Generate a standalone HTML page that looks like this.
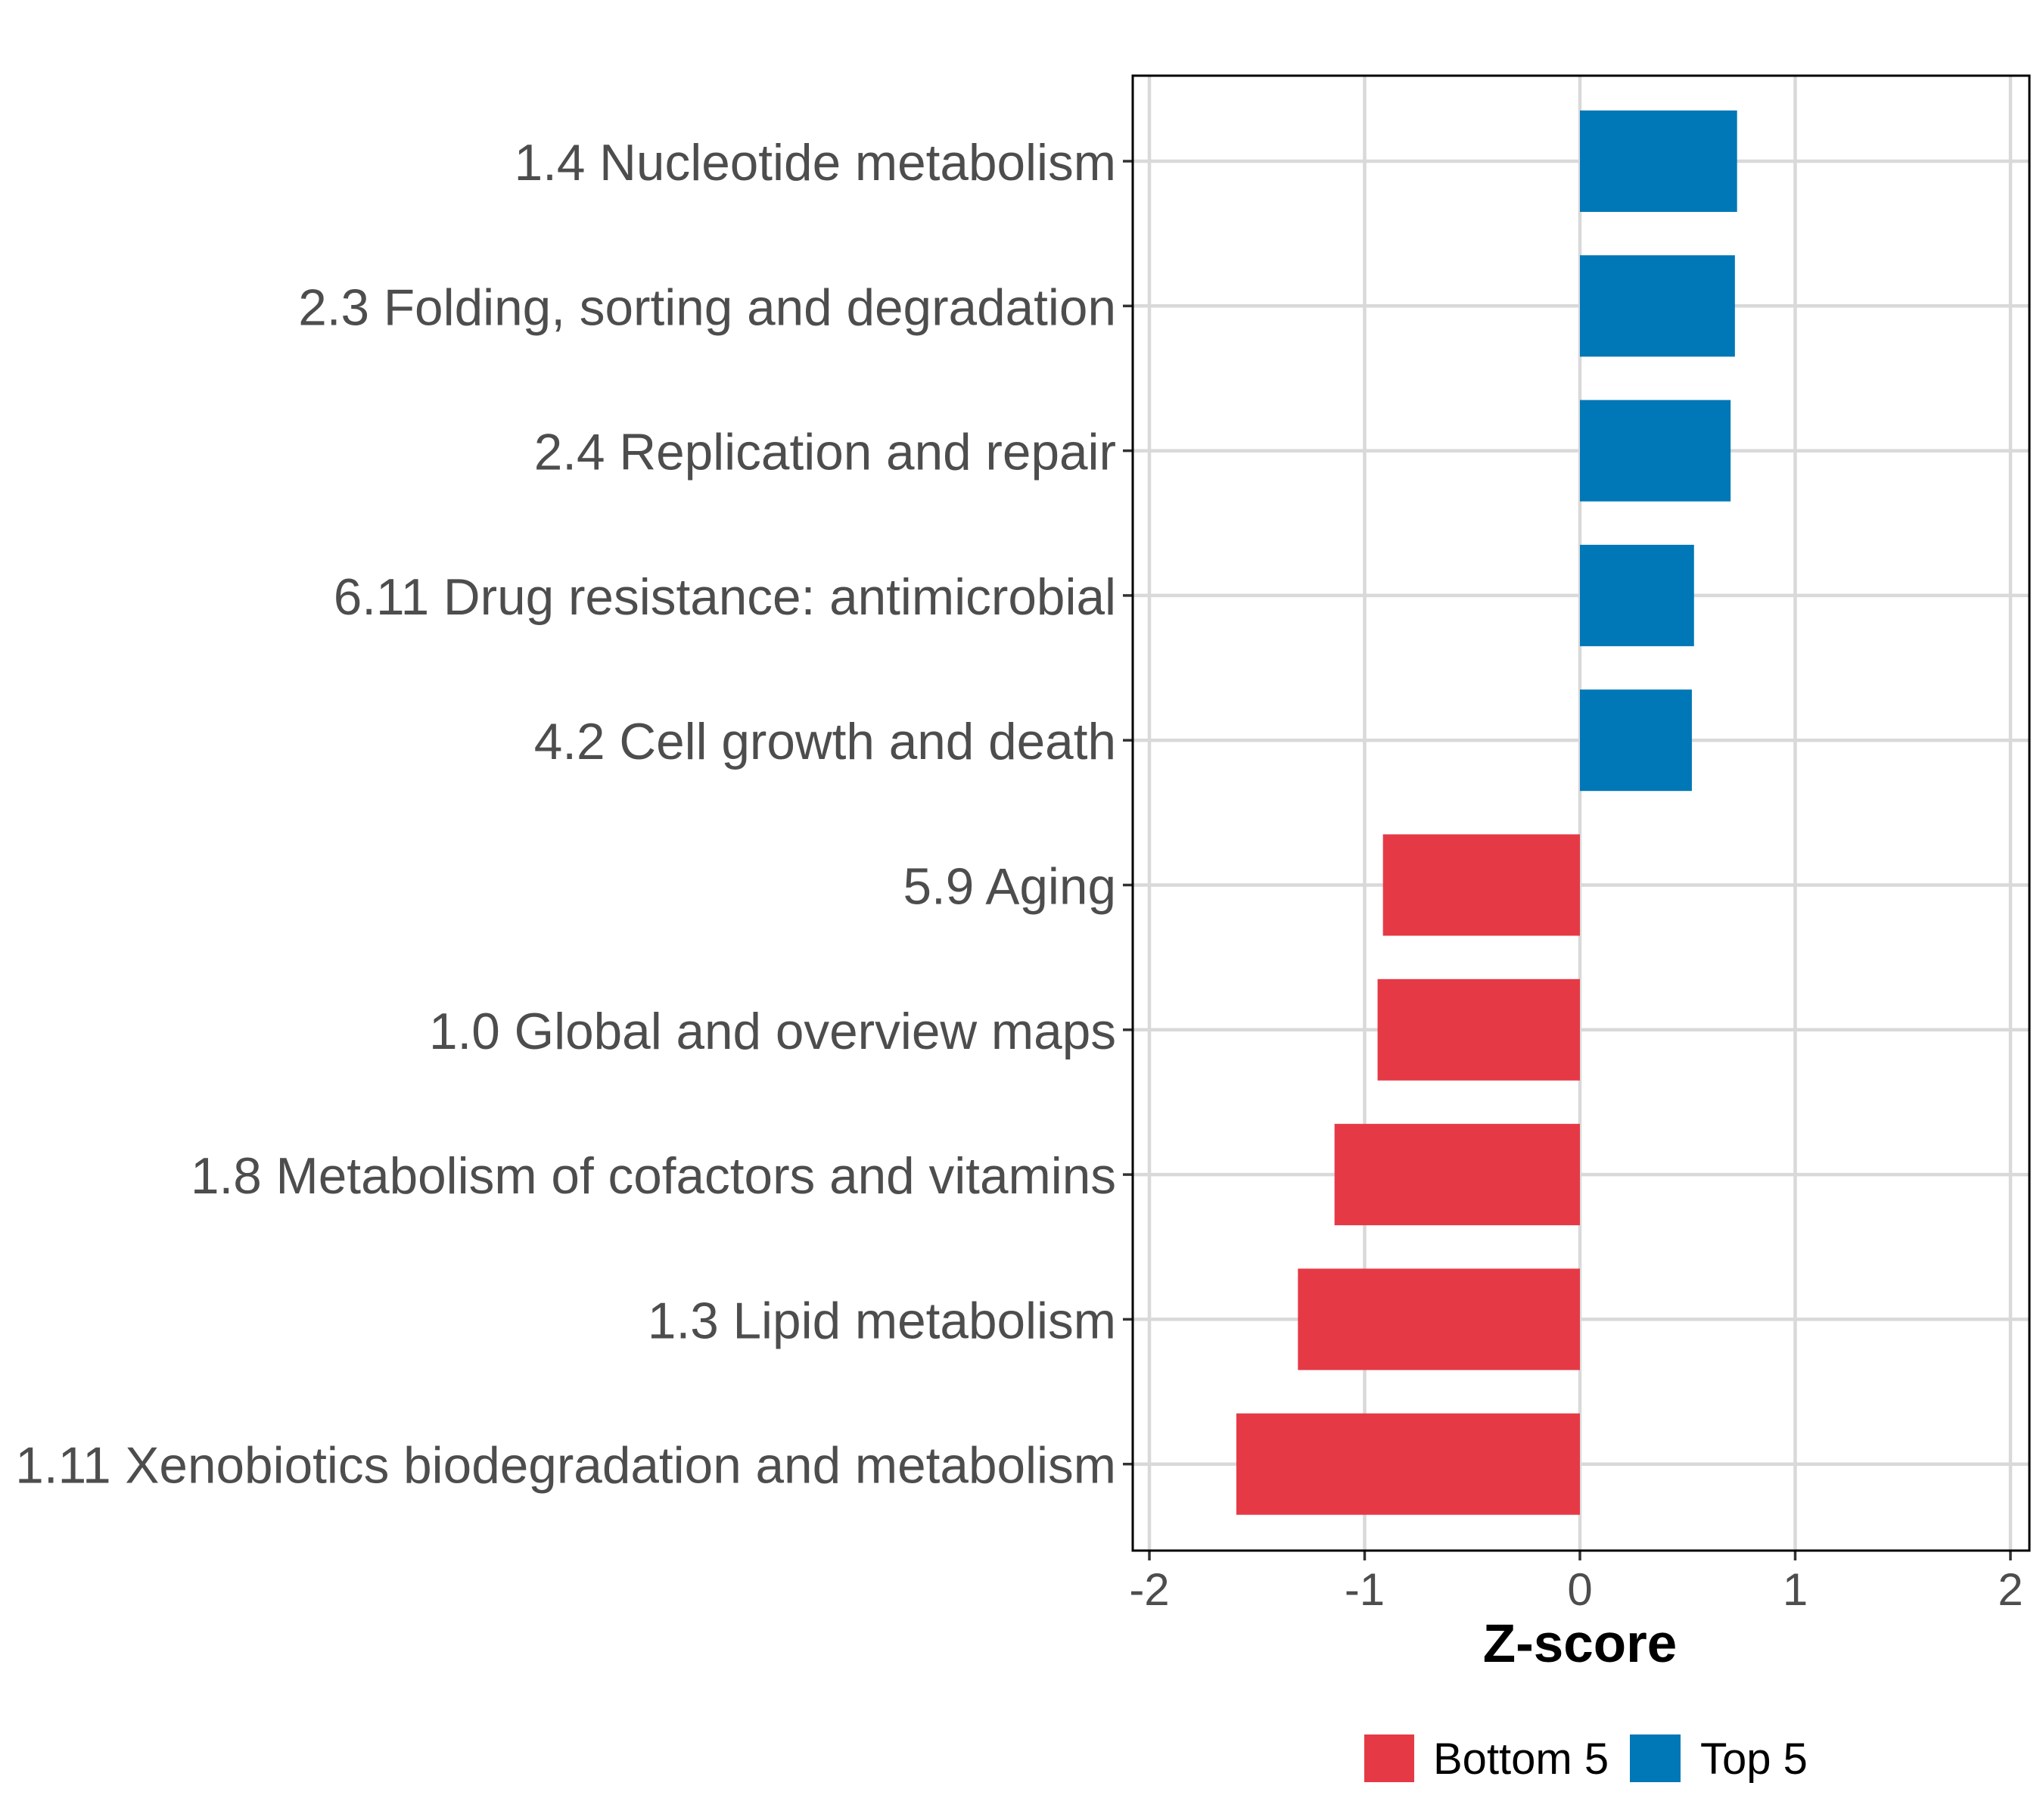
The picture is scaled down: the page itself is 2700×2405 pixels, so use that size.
<!DOCTYPE html>
<html><head><meta charset="utf-8"><style>
html,body{margin:0;padding:0;background:#fff;}
svg text{font-family:"Liberation Sans",Arial,sans-serif;}
</style></head><body>
<svg id="chart" width="2700" height="2400" viewBox="0 0 2700 2400" xmlns="http://www.w3.org/2000/svg">
<rect x="0" y="0" width="2700" height="2400" fill="#fff"/>
<g id="grid"></g>
<g id="bars"></g>
<g id="yaxis"></g>
<g id="xaxis"></g>
<rect x="1497" y="100" width="1185" height="1949" fill="none" stroke="#000" stroke-width="3"/>
<text x="2088" y="2196" text-anchor="middle" font-size="71" font-weight="bold" fill="#000">Z-score</text>
<g>
<rect x="1803" y="2292" width="66" height="63" fill="#E63946"/>
<text x="1894" y="2344" font-size="58" fill="#000">Bottom 5</text>
<rect x="2154" y="2292" width="67" height="63" fill="#0077B6"/>
<text x="2247" y="2344" font-size="58" fill="#000">Top 5</text>
</g>
</svg>
<script>
const categories = ["1.4 Nucleotide metabolism","2.3 Folding, sorting and degradation","2.4 Replication and repair","6.11 Drug resistance: antimicrobial","4.2 Cell growth and death","5.9 Aging","1.0 Global and overview maps","1.8 Metabolism of cofactors and vitamins","1.3 Lipid metabolism","1.11 Xenobiotics biodegradation and metabolism"];
const values = [0.73, 0.72, 0.70, 0.53, 0.52, -0.915, -0.94, -1.14, -1.31, -1.596];
const groups = ["Top 5","Top 5","Top 5","Top 5","Top 5","Bottom 5","Bottom 5","Bottom 5","Bottom 5","Bottom 5"];
const xTicks = [-2, -1, 0, 1, 2];
const xTickLabels = ["-2","-1","0","1","2"];

const NS = "http://www.w3.org/2000/svg";
const PL = 1497, PR = 2682, PT = 100, PB = 2049;
const x = v => 2088 + v * 284.5;
const yc = i => 213 + i * 191.3;
const bandH = 134;
const colors = {"Top 5":"#0077B6","Bottom 5":"#E63946"};
function mk(tag, attrs, parent){const e=document.createElementNS(NS,tag);for(const k in attrs)e.setAttribute(k,attrs[k]);parent.appendChild(e);return e;}
const grid=document.getElementById('grid'), bars=document.getElementById('bars'), ya=document.getElementById('yaxis'), xa=document.getElementById('xaxis');
xTicks.forEach((t,i)=>{
  const l=mk('line',{x1:x(t),x2:x(t),y1:PT,y2:PB,stroke:'#d9d9d9','stroke-width':4.5},grid);
  
  
  const tk=mk('line',{x1:x(t),x2:x(t),y1:PB,y2:PB+13,stroke:'#333','stroke-width':3.5},xa);
  
  
  const tx=mk('text',{x:x(t),y:PB+72,'text-anchor':'middle','font-size':60,fill:'#4d4d4d'},xa);
  tx.textContent=xTickLabels[i];
  
  
});
categories.forEach((c,i)=>{
  const y=yc(i);
  const g=mk('line',{x1:PL,x2:PR,y1:y,y2:y,stroke:'#d9d9d9','stroke-width':4.5},grid);
  
  
  const v=values[i];
  const r=mk('rect',{x:Math.min(x(0),x(v)),y:y-bandH/2,width:Math.abs(x(v)-x(0)),height:bandH,fill:colors[groups[i]]},bars);
  
  
  const tk=mk('line',{x1:PL-13,x2:PL,y1:y,y2:y,stroke:'#333','stroke-width':3.5},ya);
  
  
  const t=mk('text',{x:1475,y:y+25,'text-anchor':'end','font-size':67.5,fill:'#4d4d4d'},ya);
  t.textContent=c;
  
  
});
</script>
</body></html>
